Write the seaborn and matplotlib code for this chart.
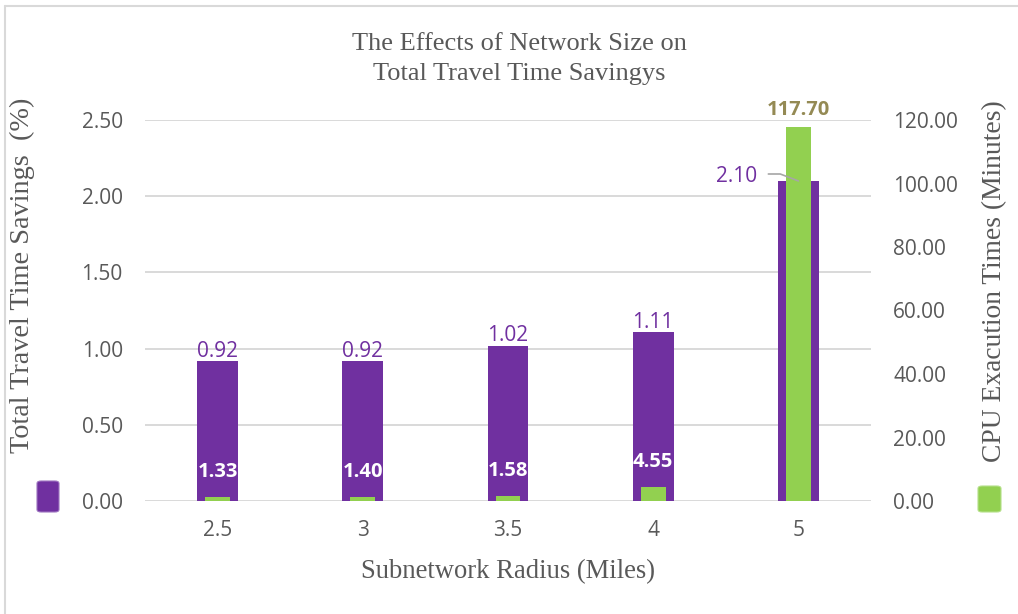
import matplotlib
matplotlib.use("Agg")
import matplotlib.pyplot as plt
import matplotlib.ticker as mticker
from matplotlib.patches import FancyBboxPatch
from matplotlib.lines import Line2D
import pandas as pd
import seaborn as sns

# Subnetwork radius (miles) and the two measured series
radius = ["2.5", "3", "3.5", "4", "5"]
savings_pct = [0.92, 0.92, 1.02, 1.11, 2.10]
cpu_minutes = [1.33, 1.40, 1.58, 4.55, 117.70]

left_ticks = [0.0, 0.5, 1.0, 1.5, 2.0, 2.5]
right_ticks = [0, 20, 40, 60, 80, 100, 120]

PURPLE = "#7030A0"
GREEN = "#92D050"
GREY_TXT = "#595959"
GRID = "#D9D9D9"

sns.set_theme(style="white")
plt.rcParams["font.family"] = ["Open Sans", "DejaVu Sans"]
SERIF = ["Liberation Serif", "DejaVu Serif"]

df = pd.DataFrame({"radius": radius, "savings": savings_pct, "cpu": cpu_minutes})

fig = plt.figure(figsize=(10.18, 6.14), dpi=100)
ax = fig.add_axes([145 / 1018, 1 - 501 / 614, 726 / 1018, 381 / 614])

sns.barplot(data=df, x="radius", y="savings", order=radius, color=PURPLE,
            saturation=1, width=0.28, errorbar=None, ax=ax, zorder=2,
            edgecolor=PURPLE, linewidth=0)
ax.set_xlim(-0.5, len(radius) - 0.5)
ax.set_ylim(left_ticks[0], left_ticks[-1])
ax.set_yticks(left_ticks)
ax.yaxis.set_major_formatter(mticker.FormatStrFormatter("%.2f"))
ax.grid(axis="y", color=GRID, linewidth=1.4, zorder=0)
ax.set_axisbelow(True)
for s in ax.spines.values():
    s.set_visible(False)
ax.tick_params(axis="both", length=0, labelsize=15, colors=GREY_TXT)
ax.tick_params(axis="y", pad=16)
ax.tick_params(axis="x", pad=14)
ax.set_xlabel("")
ax.set_ylabel("")

ax2 = ax.twinx()
sns.barplot(data=df, x="radius", y="cpu", order=radius, color=GREEN,
            saturation=1, width=0.17, errorbar=None, ax=ax2, zorder=3,
            edgecolor=GREEN, linewidth=0)
ax2.set_ylim(right_ticks[0], right_ticks[-1])
ax2.set_yticks(right_ticks)
ax2.yaxis.set_major_formatter(mticker.FormatStrFormatter("%.2f"))
ax2.grid(False)
for s in ax2.spines.values():
    s.set_visible(False)
ax2.tick_params(axis="y", length=0, labelsize=15, colors=GREY_TXT, pad=16)
ax2.set_xlabel("")
ax2.set_ylabel("")

# Savings labels above the purple bars (last one pulled aside with a leader)
for i, v in enumerate(savings_pct):
    if i < len(savings_pct) - 1:
        ax2.annotate(f"{v:.2f}", xy=(i, v), xycoords=ax.transData,
                     xytext=(0, 7), textcoords="offset points",
                     ha="center", va="center", fontsize=15, color=PURPLE,
                     zorder=5)
    else:
        ax2.annotate(f"{v:.2f}", xy=(i, v), xycoords=ax.transData,
                     xytext=(-30, 3.5), textcoords="offset points",
                     ha="right", va="center", fontsize=15, color=PURPLE,
                     zorder=5,
                     arrowprops=dict(arrowstyle="-", color="#A6A6A6", lw=1.2,
                                     shrinkA=6, shrinkB=0, relpos=(1, 0.6),
                                     connectionstyle="angle,angleA=0,angleB=-21,rad=0"))

# CPU time labels
for i, v in enumerate(cpu_minutes):
    if v < 60:
        ax2.annotate(f"{v:.2f}", xy=(i, v), xytext=(0, 18),
                     textcoords="offset points", ha="center", va="center",
                     fontsize=14.5, fontweight="bold", color="white", zorder=6)
    else:
        ax2.annotate(f"{v:.2f}", xy=(i, v), xytext=(0, 12.5),
                     textcoords="offset points", ha="center", va="center",
                     fontsize=14.5, fontweight="bold", color="#948A54", zorder=6)

# Titles and axis captions
fig.text(519 / 1018, 1 - 59 / 614,
         "The Effects of Network Size on\nTotal Travel Time Savingys",
         ha="center", va="center", fontsize=19, color=GREY_TXT,
         family=SERIF, linespacing=1.5)
fig.text(22 / 1018, 1 - 275 / 614, "Total Travel Time Savings  (%)",
         rotation=90, ha="center", va="center", fontsize=20.3,
         color=GREY_TXT, family=SERIF)
fig.text(995 / 1018, 1 - 281 / 614, "CPU Exacution Times (Minutes)",
         rotation=90, ha="center", va="center", fontsize=19.8,
         color=GREY_TXT, family=SERIF)
fig.text(508 / 1018, 1 - 572 / 614, "Subnetwork Radius (Miles)",
         ha="center", va="center", fontsize=19.2, color=GREY_TXT, family=SERIF)

# Series keys beside each value axis
fig.patches.append(FancyBboxPatch((37 / 1018, 1 - 512 / 614), 22 / 1018, 31 / 614,
                                  boxstyle="round,pad=0,rounding_size=0.004",
                                  transform=fig.transFigure, facecolor=PURPLE,
                                  edgecolor="#9D74C0", linewidth=0.8))
fig.patches.append(FancyBboxPatch((978 / 1018, 1 - 512 / 614), 23 / 1018, 26 / 614,
                                  boxstyle="round,pad=0,rounding_size=0.004",
                                  transform=fig.transFigure, facecolor=GREEN,
                                  edgecolor="#B5E08A", linewidth=0.8))

# Chart-area frame
fig.lines.append(Line2D([5 / 1018, 5 / 1018], [0, 1 - 6 / 614],
                        transform=fig.transFigure, color=GRID, lw=1.5))
fig.lines.append(Line2D([5 / 1018, 1], [1 - 6 / 614, 1 - 6 / 614],
                        transform=fig.transFigure, color=GRID, lw=1.5))

fig.savefig("out.png", dpi=100, facecolor="white")
